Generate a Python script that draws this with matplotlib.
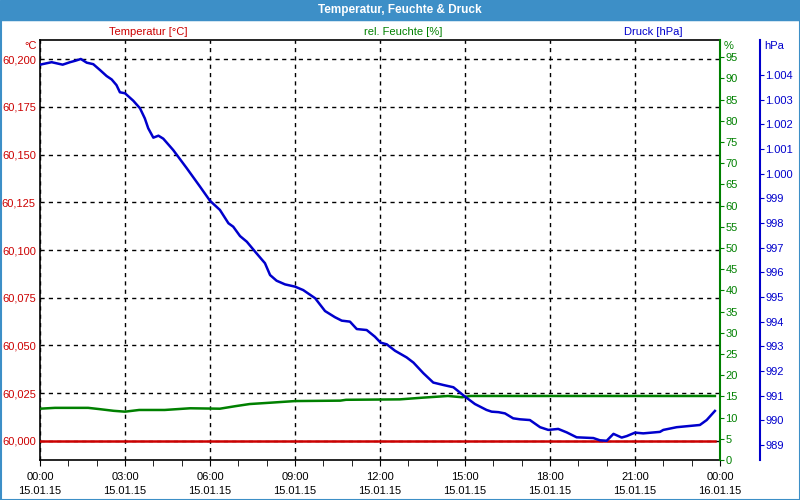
import matplotlib
matplotlib.use('Agg')
import matplotlib.pyplot as plt
from matplotlib.patches import Rectangle
from matplotlib.ticker import FuncFormatter, MultipleLocator, FixedLocator

# pressure [hPa] over the day (hours since 15.01.15 00:00)
druck_h = [0.0, 0.41, 0.8, 1.06, 1.25, 1.44, 1.65, 1.88, 2.12, 2.35, 2.53, 2.7, 2.82, 3.0,
           3.29, 3.53, 3.7, 3.82, 4.0, 4.18, 4.35, 4.7, 5.18, 5.65, 6.0, 6.35, 6.65, 6.82,
           7.06, 7.3, 7.59, 7.82, 7.94, 8.12, 8.35, 8.65, 9.0, 9.29, 9.71, 10.06, 10.41,
           10.65, 10.94, 11.18, 11.53, 11.82, 12.02, 12.24, 12.53, 12.94, 13.18, 13.53,
           13.88, 14.24, 14.59, 15.0, 15.35, 15.76, 15.94, 16.18, 16.41, 16.7, 16.94,
           17.29, 17.65, 17.94, 18.29, 18.59, 18.94, 19.53, 19.76, 20.0, 20.24, 20.53,
           20.71, 21.0, 21.29, 21.88, 22.0, 22.47, 23.29, 23.53, 23.82]
druck = [1004.42, 1004.52, 1004.42, 1004.52, 1004.58, 1004.65, 1004.50, 1004.44, 1004.20,
         1003.96, 1003.82, 1003.59, 1003.30, 1003.26, 1002.96, 1002.65, 1002.24, 1001.84,
         1001.46, 1001.54, 1001.42, 1000.96, 1000.22, 999.47, 998.90, 998.53, 997.99,
         997.85, 997.47, 997.24, 996.84, 996.53, 996.37, 995.89, 995.66, 995.51, 995.42,
         995.28, 994.95, 994.43, 994.18, 994.04, 994.00, 993.70, 993.66, 993.39, 993.15,
         993.08, 992.82, 992.55, 992.34, 991.91, 991.53, 991.43, 991.34, 990.96, 990.66,
         990.42, 990.35, 990.33, 990.28, 990.08, 990.04, 990.01, 989.72, 989.61, 989.65,
         989.51, 989.31, 989.28, 989.19, 989.17, 989.45, 989.30, 989.36, 989.50, 989.47,
         989.53, 989.61, 989.72, 989.81, 990.01, 990.38]

# humidity [%]
feuchte_h = [0.0, 0.53, 1.7, 2.1, 2.6, 3.0, 3.5, 4.4, 5.3, 6.35, 6.9, 7.4, 8.1, 9.0,
             10.6, 10.8, 12.7, 13.5, 14.4, 14.9, 15.2, 23.82]
feuchte = [12.1, 12.3, 12.3, 12.0, 11.6, 11.4, 11.8, 11.8, 12.2, 12.1, 12.7, 13.2, 13.5,
           13.9, 14.0, 14.2, 14.3, 14.7, 15.1, 14.8, 15.1, 15.1]

# temperature [°C]
temp_h = [0.0, 23.82]
temp = [60.0, 60.0]

tick_hours = [0, 3, 6, 9, 12, 15, 18, 21, 24]
tick_labels = ["00:00\n15.01.15", "03:00\n15.01.15", "06:00\n15.01.15", "09:00\n15.01.15",
               "12:00\n15.01.15", "15:00\n15.01.15", "18:00\n15.01.15", "21:00\n15.01.15",
               "00:00\n16.01.15"]
druck_ticks = list(range(989, 1005))

RED = '#cc0000'
GREEN = '#008000'
BLUE = '#0000cc'
BAR = '#3d8fc7'

plt.rcParams['font.family'] = ['Liberation Sans', 'DejaVu Sans']
plt.rcParams['font.size'] = 8

fig = plt.figure(figsize=(8, 5), dpi=100)

# title bar and frame
fig.patches.append(Rectangle((0, 1 - 20 / 500), 1, 20 / 500, transform=fig.transFigure,
                             color=BAR, zorder=0))
fig.patches.append(Rectangle((0.5 / 800, 0.5 / 500), 799 / 800, 480 / 500,
                             transform=fig.transFigure, fill=False, edgecolor=BAR, lw=1.5))
fig.text(0.5, 1 - 10 / 500, "Temperatur, Feuchte & Druck", color='white',
         fontweight='bold', ha='center', va='center', fontsize=8.5)

ax = fig.add_axes([40 / 800, 40 / 500, 680 / 800, 420 / 500])
ax2 = ax.twinx()
ax3 = ax.twinx()

# temperature axis (left)
ax.plot(temp_h, temp, color=RED, lw=1.8, zorder=5)
ax.set_xlim(0, 24)
ax.set_ylim(59.9900, 60.2100)
ax.yaxis.set_major_locator(MultipleLocator(0.025))
ax.yaxis.set_major_formatter(FuncFormatter(lambda v, p: f"{v:.3f}".replace('.', ',')))
ax.tick_params(axis='y', colors=RED, length=0, pad=3)
ax.set_xticks(tick_hours)
ax.set_xticklabels(tick_labels, linespacing=1.45)
ax.xaxis.set_minor_locator(MultipleLocator(1))
ax.tick_params(axis='x', which='both', direction='out', length=4, pad=5, colors='black')
ax.grid(True, color='black', linestyle=(0, (3, 3)), lw=1)
for s in ['left', 'top', 'bottom']:
    ax.spines[s].set_color('black')
    ax.spines[s].set_linewidth(1.2)
ax.spines['right'].set_visible(False)

# humidity axis (right)
ax2.plot(feuchte_h, feuchte, color=GREEN, lw=1.8, zorder=5)
ax2.set_ylim(0, 99.06)
ax2.yaxis.set_major_locator(MultipleLocator(5))
ax2.tick_params(axis='y', colors=GREEN, length=3, direction='out', pad=1)
ax2.spines['right'].set_color(GREEN)
ax2.spines['right'].set_linewidth(1.5)
for s in ['left', 'top', 'bottom']:
    ax2.spines[s].set_visible(False)

# pressure axis (outer right)
ax3.plot(druck_h, druck, color=BLUE, lw=1.8, zorder=6)
ax3.set_ylim(988.39, 1005.42)
ax3.yaxis.set_major_locator(FixedLocator(druck_ticks))
ax3.yaxis.set_major_formatter(FuncFormatter(lambda v, p: f"{int(round(v)):,}".replace(',', '.')))
ax3.spines['right'].set_position(('axes', 720 / 680))
ax3.spines['right'].set_color(BLUE)
ax3.spines['right'].set_linewidth(1.5)
ax3.tick_params(axis='y', colors=BLUE, length=3, direction='out', pad=1)
for s in ['left', 'top', 'bottom']:
    ax3.spines[s].set_visible(False)

# axis headers
fig.text(148 / 800, 1 - 32 / 500, "Temperatur [°C]", color=RED, ha='center', va='center')
fig.text(403 / 800, 1 - 32 / 500, "rel. Feuchte [%]", color=GREEN, ha='center', va='center')
fig.text(653 / 800, 1 - 32 / 500, "Druck [hPa]", color=BLUE, ha='center', va='center')
fig.text(37 / 800, 1 - 46 / 500, "°C", color=RED, ha='right', va='center')
fig.text(724 / 800, 1 - 46 / 500, "%", color=GREEN, ha='left', va='center')
fig.text(764 / 800, 1 - 46 / 500, "hPa", color=BLUE, ha='left', va='center')

fig.savefig('out.png', dpi=100)
